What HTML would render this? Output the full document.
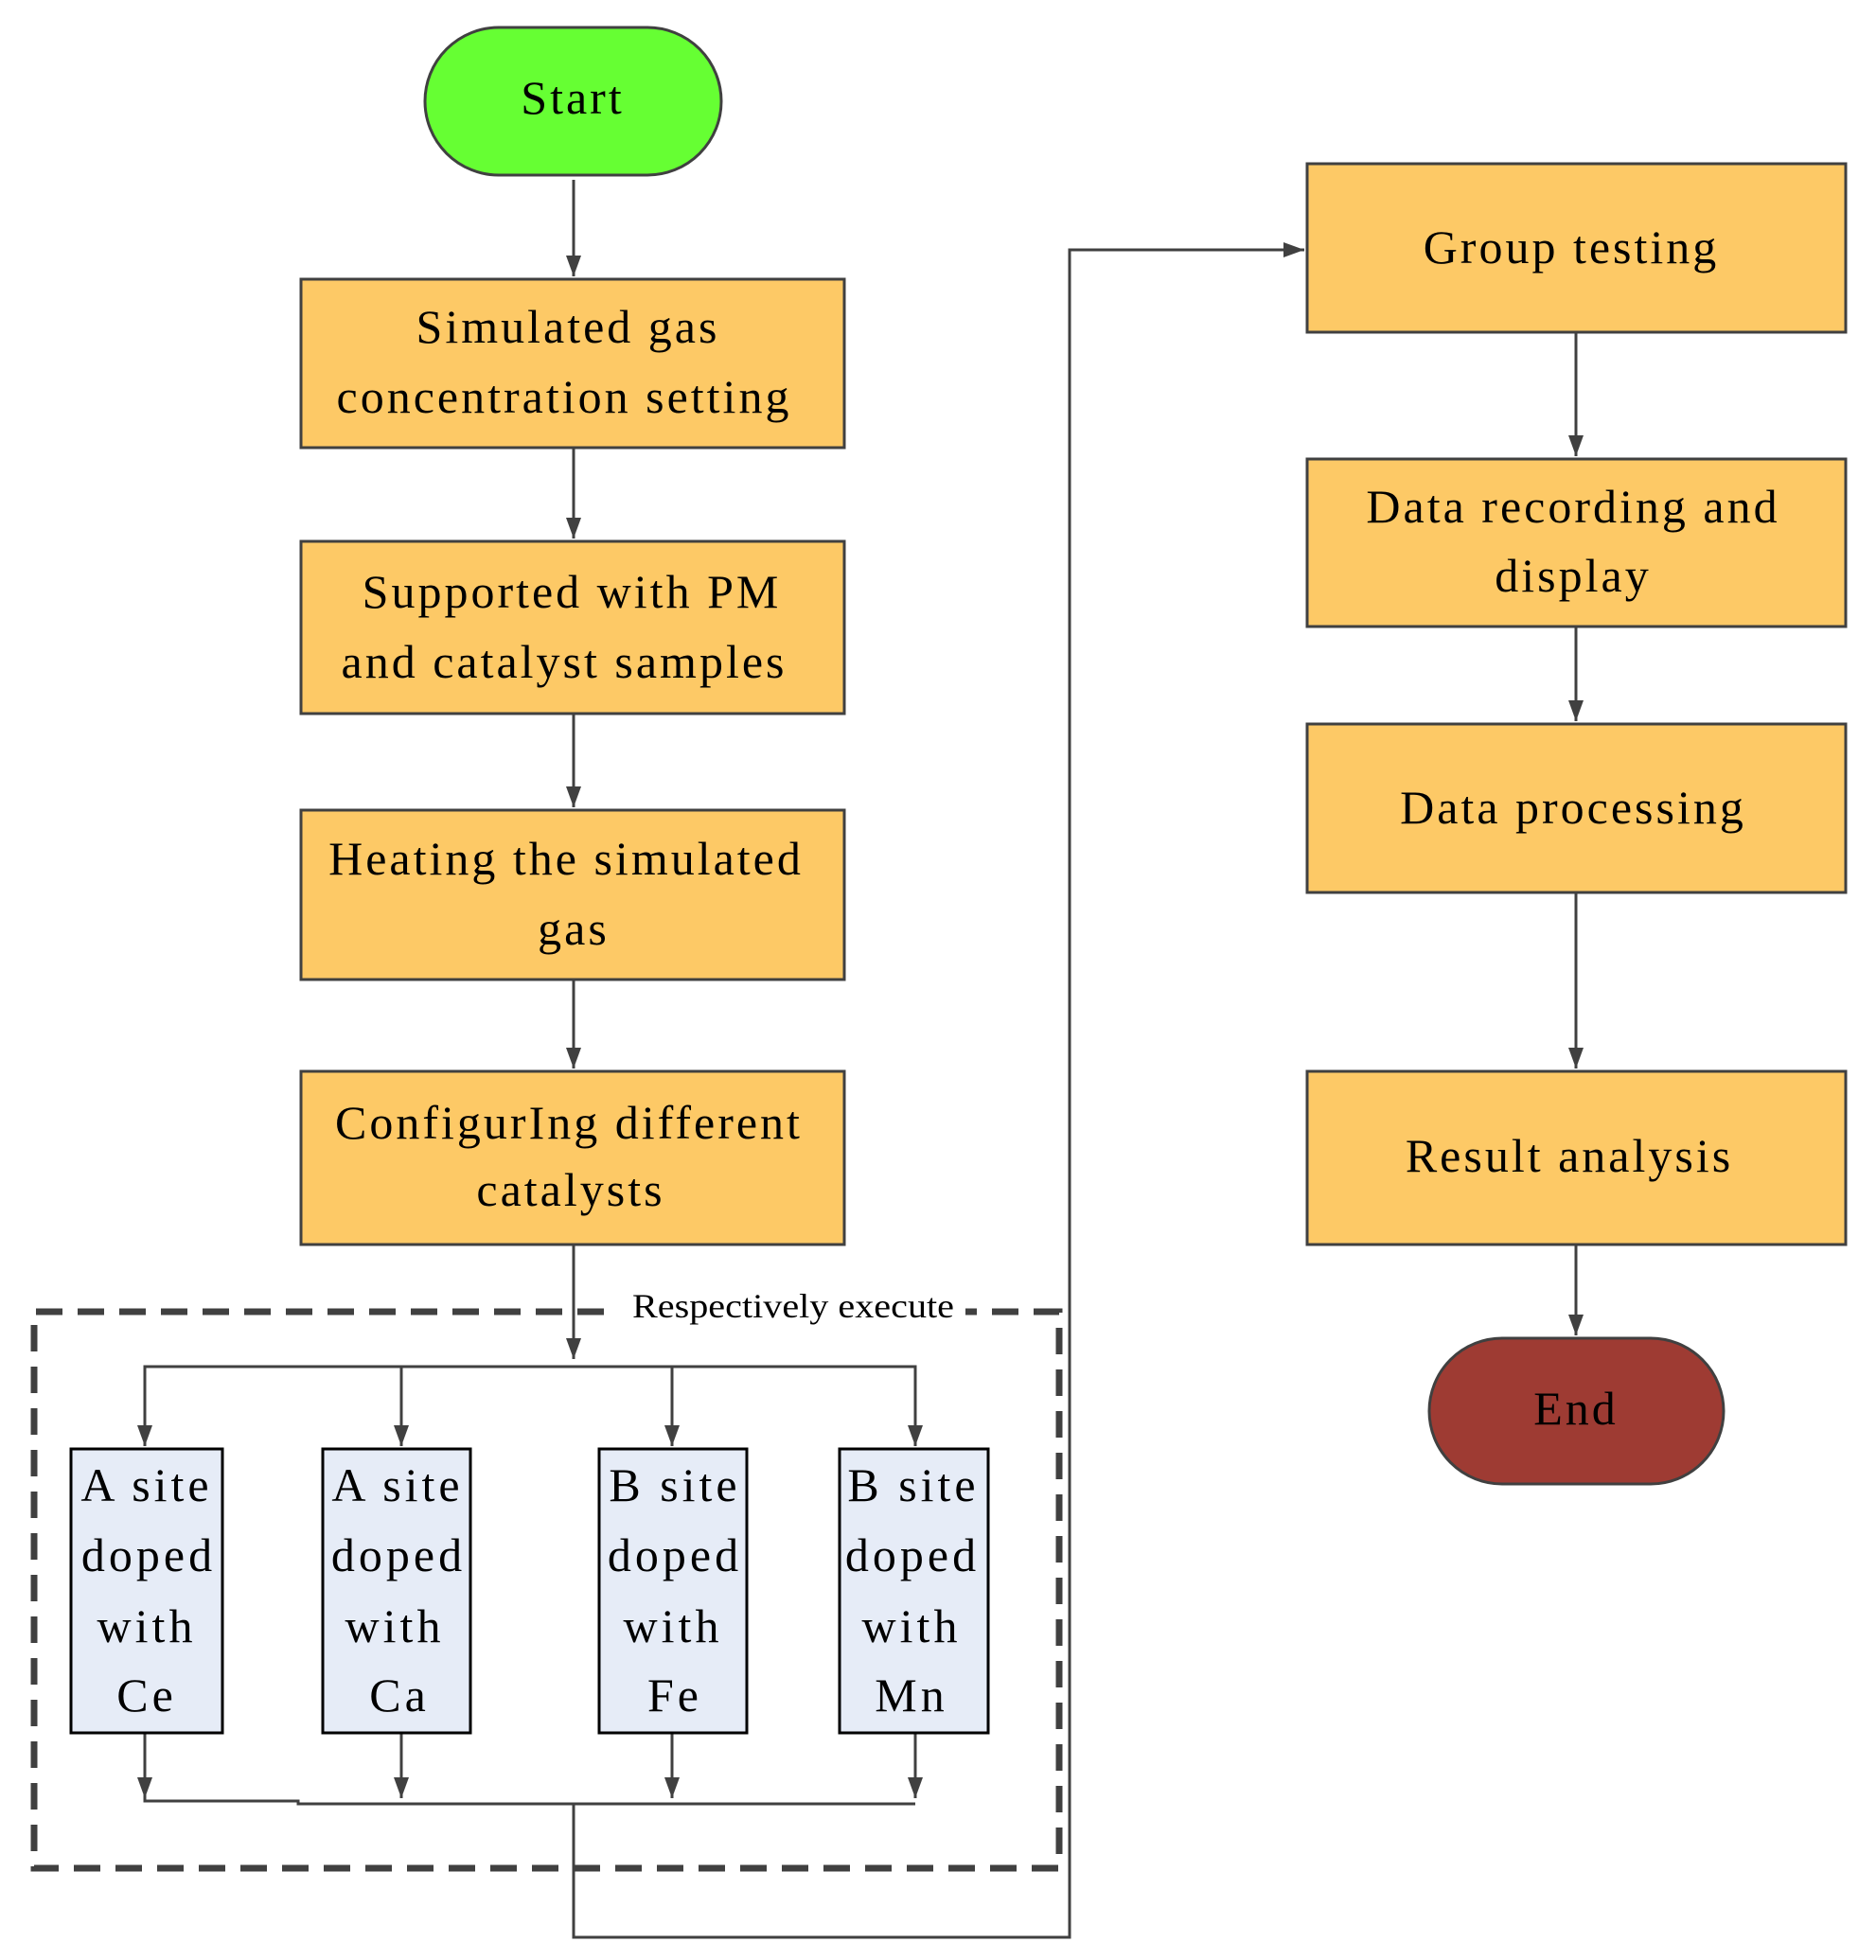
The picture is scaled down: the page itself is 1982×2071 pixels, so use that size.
<!DOCTYPE html>
<html><head><meta charset="utf-8"><style>
html,body{margin:0;padding:0;background:#fff;}
svg{display:block;}
text{font-family:"Liberation Serif",serif;fill:#000;}
.m text{letter-spacing:3px;}
.s text{letter-spacing:4px;}
</style></head><body>
<svg width="1982" height="2071" viewBox="0 0 1982 2071" xmlns="http://www.w3.org/2000/svg">
<defs>
<marker id="b" markerWidth="24" markerHeight="24" refX="22" refY="12" orient="auto" markerUnits="userSpaceOnUse">
<path d="M0,4 L22,12 L0,20 z" fill="#404040"/>
</marker>
</defs>
<g stroke="#404040" stroke-width="3" fill="none">
<line x1="606" y1="190" x2="606" y2="292" marker-end="url(#b)"/>
<line x1="606" y1="473" x2="606" y2="569" marker-end="url(#b)"/>
<line x1="606" y1="754" x2="606" y2="853" marker-end="url(#b)"/>
<line x1="606" y1="1035" x2="606" y2="1129" marker-end="url(#b)"/>
<line x1="606" y1="1315" x2="606" y2="1436" marker-end="url(#b)"/>
<polyline points="153,1528 153,1444 967,1444 967,1528"/>
<line x1="424" y1="1444" x2="424" y2="1528" marker-end="url(#b)"/>
<line x1="710" y1="1444" x2="710" y2="1528" marker-end="url(#b)"/>
<line x1="153" y1="1444" x2="153" y2="1528" marker-end="url(#b)"/>
<line x1="967" y1="1444" x2="967" y2="1528" marker-end="url(#b)"/>
<line x1="153" y1="1831" x2="153" y2="1900" marker-end="url(#b)"/>
<line x1="424" y1="1831" x2="424" y2="1900" marker-end="url(#b)"/>
<line x1="710" y1="1831" x2="710" y2="1900" marker-end="url(#b)"/>
<line x1="967" y1="1831" x2="967" y2="1900" marker-end="url(#b)"/>
<polyline points="153,1900 153,1903 315,1903 315,1906 967,1906"/>
<polyline points="606,1906 606,2047 1130,2047 1130,264 1378,264" marker-end="url(#b)"/>
<line x1="1665" y1="351" x2="1665" y2="482" marker-end="url(#b)"/>
<line x1="1665" y1="662" x2="1665" y2="762" marker-end="url(#b)"/>
<line x1="1665" y1="943" x2="1665" y2="1129" marker-end="url(#b)"/>
<line x1="1665" y1="1315" x2="1665" y2="1411" marker-end="url(#b)"/>
</g>
<path d="M638,1386 L36,1386 L36,1974 L1119,1974 L1119,1386 L1020,1386" stroke="#404040" stroke-width="7" fill="none" stroke-dasharray="28,16"/>
<text x="668" y="1392" font-size="36" textLength="340" lengthAdjust="spacingAndGlyphs">Respectively execute</text>
<rect x="449" y="29" width="313" height="156" rx="78" fill="#66FF33" stroke="#404040" stroke-width="3"/>
<rect x="1510" y="1414" width="311" height="154" rx="77" fill="#9E3B33" stroke="#404040" stroke-width="3"/>
<g fill="#FDC966" stroke="#404040" stroke-width="3">
<rect x="318" y="295" width="574" height="178"/>
<rect x="318" y="572" width="574" height="182"/>
<rect x="318" y="856" width="574" height="179"/>
<rect x="318" y="1132" width="574" height="183"/>
<rect x="1381" y="173" width="569" height="178"/>
<rect x="1381" y="485" width="569" height="177"/>
<rect x="1381" y="765" width="569" height="178"/>
<rect x="1381" y="1132" width="569" height="183"/>
</g>
<g class="m" font-size="50" text-anchor="middle">
<text x="605" y="120">Start</text>
<text x="1665" y="1505">End</text>
<text x="600" y="362">Simulated gas</text>
<text x="596" y="436">concentration setting</text>
<text x="604" y="642">Supported with PM</text>
<text x="596" y="716">and catalyst samples</text>
<text x="598" y="924">Heating the simulated</text>
<text x="606" y="998">gas</text>
<text x="601" y="1203">ConfigurIng different</text>
<text x="603" y="1274">catalysts</text>
<text x="1660" y="278">Group testing</text>
<text x="1662" y="552">Data recording and</text>
<text x="1662" y="625">display</text>
<text x="1662" y="870">Data processing</text>
<text x="1658" y="1238">Result analysis</text>
</g>
<g fill="#E6ECF7" stroke="#000" stroke-width="3">
<rect x="75" y="1531" width="160" height="300"/>
<rect x="341" y="1531" width="156" height="300"/>
<rect x="633" y="1531" width="156" height="300"/>
<rect x="887" y="1531" width="157" height="300"/>
</g>
<g class="s" font-size="50" text-anchor="middle">
<text x="155" y="1586">A site</text><text x="157" y="1660">doped</text><text x="155" y="1735">with</text><text x="155" y="1808">Ce</text>
<text x="420" y="1586">A site</text><text x="421" y="1660">doped</text><text x="417" y="1735">with</text><text x="422" y="1808">Ca</text>
<text x="713" y="1586">B site</text><text x="713" y="1660">doped</text><text x="711" y="1735">with</text><text x="713" y="1808">Fe</text>
<text x="965" y="1586">B site</text><text x="964" y="1660">doped</text><text x="963" y="1735">with</text><text x="963" y="1808">Mn</text>
</g>
</svg>
</body></html>
